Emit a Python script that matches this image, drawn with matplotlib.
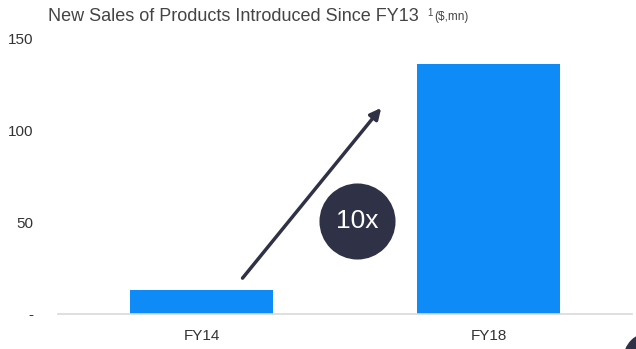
import matplotlib
matplotlib.use('Agg')
import matplotlib.pyplot as plt
from matplotlib.patches import Circle
from matplotlib.transforms import IdentityTransform

plt.rcParams['font.family'] = ['Liberation Sans', 'DejaVu Sans']

categories = ['FY14', 'FY18']
sales = [13, 136]
ytick_values = [0, 50, 100, 150]
ytick_labels = ['-', '50', '100', '150']
growth_label = '10x'

fig = plt.figure(figsize=(6.36, 3.49), dpi=100)
ax = fig.add_axes([0.0912, 0.1003, 0.9025, 0.7907])

x = list(range(len(categories)))
ax.bar(x, sales, width=0.5, color='#0f8bf7', zorder=2)

ax.set_xlim(-0.5, 1.5)
ax.set_ylim(0, 150)
ax.set_xticks(x)
ax.set_xticklabels(categories, fontsize=11, color='#333333')
ax.set_yticks(ytick_values)
ax.set_yticklabels(ytick_labels, fontsize=11, color='#333333')
ax.tick_params(axis='y', length=0, pad=18)
ax.tick_params(axis='x', length=0, pad=11)
for s in ['top', 'right', 'left']:
    ax.spines[s].set_visible(False)
ax.spines['bottom'].set_color('#d9d9d9')
ax.spines['bottom'].set_linewidth(1.2)

# growth arrow and bubble
ax.annotate('', xy=(0.626, 112), xytext=(0.143, 19.5),
            arrowprops=dict(arrowstyle='-|>', color='#2f3147', lw=2.5,
                            mutation_scale=16, shrinkA=0, shrinkB=0), zorder=3)
ax.scatter([0.542], [50.5], s=3000, color='#2f3147', zorder=4, linewidths=0)
ax.text(0.542, 50.5, growth_label, color='white', fontsize=19,
        ha='center', va='center', zorder=5)

# title
fig.text(0.0755, 0.953, 'New Sales of Products Introduced Since FY13', fontsize=13,
         color='#444444', va='center', ha='left')
fig.text(0.672, 0.962, '1', fontsize=7, color='#444444', va='center', ha='left')
fig.text(0.683, 0.950, '($,mn)', fontsize=8.5, color='#444444', va='center', ha='left')

# partial dark circle in the corner
fig.patches.append(Circle((650, -10), 26, transform=IdentityTransform(),
                          color='#2f3147', clip_on=False))

fig.savefig('out.png', dpi=100)
